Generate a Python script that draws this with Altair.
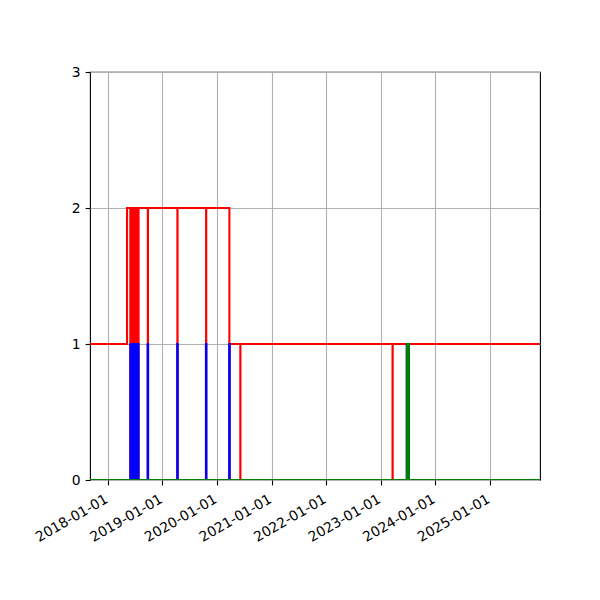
import altair as alt
import pandas as pd

# ---- data ----
START = "2017-09-03"
END = "2025-12-02"

year_ticks = [2018, 2019, 2020, 2021, 2022, 2023, 2024, 2025]
y_ticks = [0, 1, 2, 3]

cluster_dates = ["2018-05-31", "2018-06-04", "2018-06-07", "2018-06-10",
                 "2018-06-14", "2018-06-18", "2018-06-21", "2018-06-25",
                 "2018-06-29", "2018-07-03", "2018-07-06", "2018-07-10",
                 "2018-07-14", "2018-07-18", "2018-07-21", "2018-07-24"]

# red: baseline levels (step after) and brief dips to 0
red_level_dates = ["2017-09-03", "2018-05-09", "2020-03-25"]
red_level_values = [1, 2, 1]
red_spike_dates = cluster_dates + ["2018-09-25", "2019-04-11", "2019-10-20",
                                   "2020-03-24", "2020-06-05", "2023-03-21"]
red_spike_days = [1] * len(red_spike_dates)
red_spike_value = 0

# blue: baseline 0 with spikes to 1
blue_level_dates = ["2017-09-03"]
blue_level_values = [0]
blue_spike_dates = cluster_dates + ["2018-09-24", "2019-04-10", "2019-10-19",
                                    "2020-03-23", "2023-06-24"]
blue_spike_days = [1] * len(cluster_dates) + [3, 3, 3, 3, 15]
blue_spike_value = 1

# green: baseline 0 with one spike to 1
green_level_dates = ["2017-09-03"]
green_level_values = [0]
green_spike_dates = ["2023-06-25"]
green_spike_days = [13]
green_spike_value = 1


def build(name, level_dates, level_values, spike_dates, spike_days, spike_value):
    lv = pd.Series(level_values, index=pd.to_datetime(level_dates))

    def base(t):
        return int(lv[lv.index <= t].iloc[-1])

    pts = [(t, int(v)) for t, v in zip(lv.index, lv.values)]
    for d, n in zip(spike_dates, spike_days):
        t0 = pd.Timestamp(d)
        t1 = t0 + pd.Timedelta(days=n)
        pts.append((t0, spike_value))
        pts.append((t1, base(t1)))
    end = pd.Timestamp(END)
    pts.append((end, base(end)))
    pts.sort(key=lambda p: p[0])
    return pd.DataFrame({
        "date": [p[0].strftime("%Y-%m-%dT%H:%M:%SZ") for p in pts],
        "value": [p[1] for p in pts],
        "series": name,
    })


df = pd.concat([
    build("red", red_level_dates, red_level_values, red_spike_dates, red_spike_days, red_spike_value),
    build("blue", blue_level_dates, blue_level_values, blue_spike_dates, blue_spike_days, blue_spike_value),
    build("green", green_level_dates, green_level_values, green_spike_dates, green_spike_days, green_spike_value),
], ignore_index=True)

s = pd.Timestamp(START)
e = pd.Timestamp(END)
x_scale = alt.Scale(
    type="utc",
    domain=[alt.DateTime(year=s.year, month=s.month, date=s.day, utc=True),
            alt.DateTime(year=e.year, month=e.month, date=e.day, utc=True)],
    nice=False,
)
x_axis = alt.Axis(
    title=None,
    values=[alt.DateTime(year=y, month=1, date=1, utc=True) for y in year_ticks],
    format="%Y-%m-%d",
    labelAngle=-30,
    labelAlign="right",
    labelBaseline="top",
    labelOverlap=False,
    labelFlush=False,
    labelBound=False,
    labelOffset=-5,
    labelPadding=7,
)
y_axis = alt.Axis(title=None, values=y_ticks, format="d")

base = alt.Chart(df)


def layer(color):
    return base.transform_filter(alt.datum.series == color).mark_line(
        color=color, strokeWidth=2.08, interpolate="step-after", clip=True
    ).encode(
        x=alt.X("date:T", scale=x_scale, axis=x_axis),
        y=alt.Y("value:Q", scale=alt.Scale(domain=[0, 3], nice=False, zero=False), axis=y_axis),
    )


chart = alt.layer(layer("red"), layer("blue"), layer("green")).properties(
    width=450,
    height=408,
    autosize=alt.AutoSizeParams(type="none"),
    padding={"left": 82, "top": 64, "right": 40, "bottom": 100},
).configure_view(
    stroke="black", strokeWidth=1.1
).configure_axis(
    domain=False,
    grid=True,
    gridColor="#b0b0b0",
    gridWidth=1.1,
    ticks=True,
    tickColor="black",
    tickSize=4.9,
    tickWidth=1.1,
    labelFont="DejaVu Sans",
    labelFontSize=13.9,
    labelColor="black",
    labelPadding=4.9,
)

chart.save("out.html", embed_options={"renderer": "svg", "actions": False})
